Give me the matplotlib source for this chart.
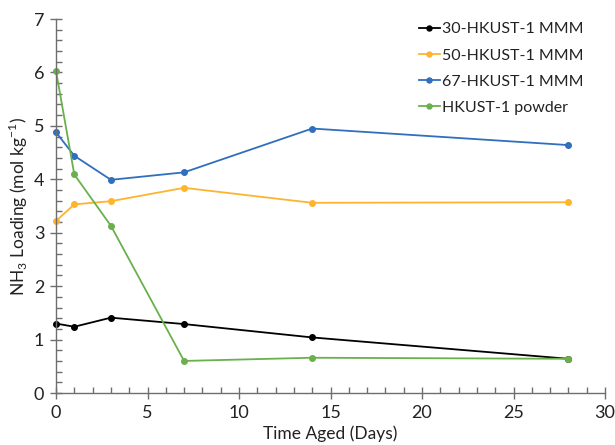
import matplotlib
matplotlib.use("Agg")
import matplotlib.pyplot as plt
from matplotlib.ticker import MultipleLocator

plt.rcParams['font.family'] = ['Lato', 'DejaVu Sans']
plt.rcParams['mathtext.fontset'] = 'custom'
plt.rcParams['mathtext.rm'] = 'Lato'

days = [0, 1, 3, 7, 14, 28]
s30 = [1.30, 1.24, 1.41, 1.29, 1.04, 0.64]
s50 = [3.22, 3.53, 3.59, 3.84, 3.56, 3.57]
s67 = [4.88, 4.44, 3.99, 4.13, 4.95, 4.64]
powder = [6.03, 4.09, 3.13, 0.60, 0.66, 0.64]
labels = ["30-HKUST-1 MMM", "50-HKUST-1 MMM", "67-HKUST-1 MMM", "HKUST-1 powder"]
colors = ["#000000", "#FDB42F", "#2F6FBE", "#6AB04C"]

fig = plt.figure(figsize=(6.15, 4.45), dpi=100)
ax = fig.add_axes([56/615, 1-393/445, (605-56)/615, (393-19)/445])

for y, lab, c in zip([s30, s50, s67, powder], labels, colors):
    ax.plot(days, y, color=c, lw=1.3, marker='o', ms=4, label=lab)

ax.set_xlim(0, 30)
ax.set_ylim(0, 7)
ax.xaxis.set_major_locator(MultipleLocator(5))
ax.xaxis.set_minor_locator(MultipleLocator(1))
ax.yaxis.set_major_locator(MultipleLocator(1))
ax.yaxis.set_minor_locator(MultipleLocator(0.2))
for s in ['top', 'right']:
    ax.spines[s].set_visible(False)
for s in ['left', 'bottom']:
    ax.spines[s].set_color('#6e6e6e')
    ax.spines[s].set_linewidth(1.0)
ax.tick_params(which='major', direction='inout', length=9, width=1.0, color='#6e6e6e',
               labelsize=13, pad=4, labelcolor='#222222')
ax.tick_params(which='minor', direction='in', length=4, width=1.0, color='#6e6e6e')
for l in ax.lines:
    l.set_clip_on(False)

ax.set_xlabel("Time Aged (Days)", fontsize=12.5, color='#222222', labelpad=3.5)
ax.set_ylabel("NH$_3$ Loading (mol kg$^{-1}$)", fontsize=12.5, color='#222222', labelpad=3)

leg = ax.legend(loc='upper left', bbox_to_anchor=(0.655, 1.0), frameon=False, fontsize=11.5,
                handlelength=1.3, handletextpad=0.15, labelspacing=0.75, markerscale=0.9,
                borderaxespad=0, borderpad=0.2)
for t in leg.get_texts():
    t.set_color('#222222')

fig.savefig("out.png", dpi=100)
